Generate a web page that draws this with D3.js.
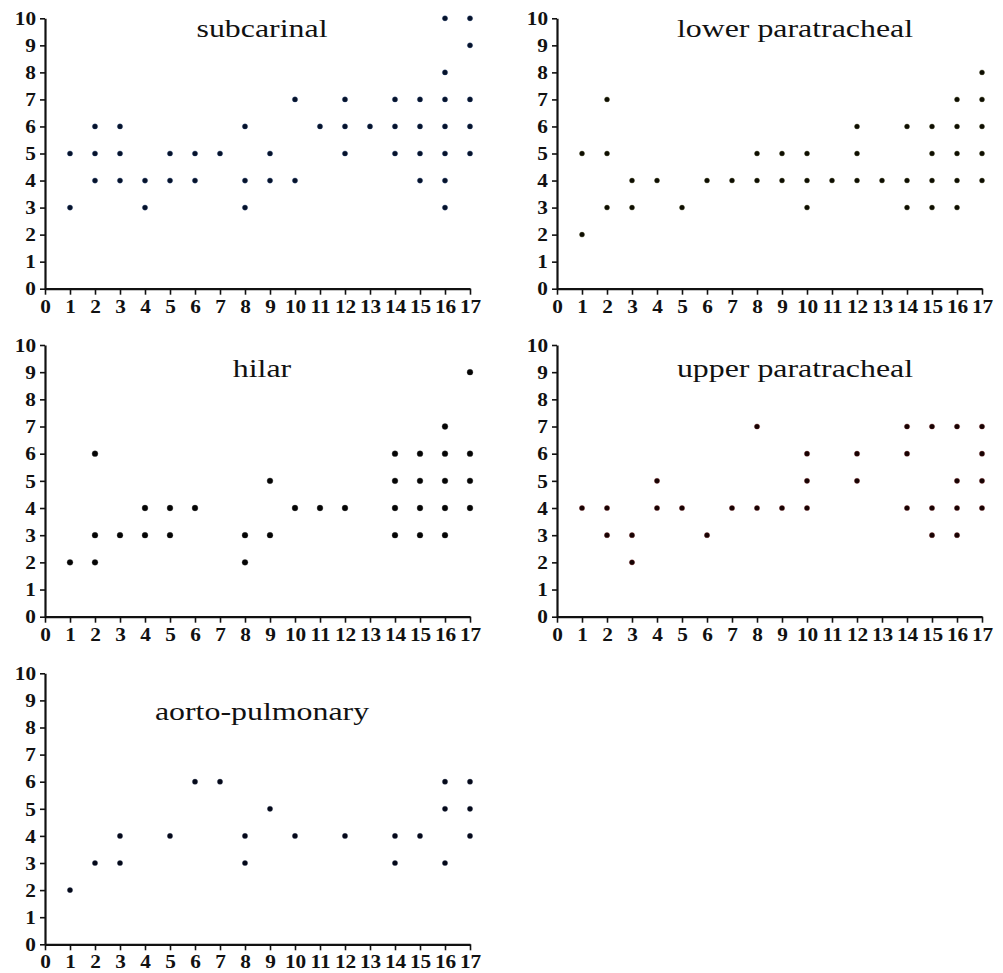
<!DOCTYPE html>
<html>
<head>
<meta charset="utf-8">
<script src="https://cdn.jsdelivr.net/npm/d3@7"></script>
<style>
  html, body { margin: 0; padding: 0; background: #fff; }
  svg { display: block; }
</style>
</head>
<body>
<svg id="chart" width="1003" height="973"></svg>
<script>
// ---- data ----
const xTicks = d3.range(0, 18);
const yTicks = d3.range(0, 11);
const panelTitles = ["subcarinal", "lower paratracheal", "hilar", "upper paratracheal", "aorto-pulmonary"];

// [x, y] pairs
const subcarinal = [
  [1,5],[1,3],[2,6],[2,5],[2,4],[3,6],[3,5],[3,4],[4,4],[4,3],[5,5],[5,4],[6,5],[6,4],[7,5],
  [8,6],[8,4],[8,3],[9,5],[9,4],[10,7],[10,4],[11,6],[12,7],[12,6],[12,5],[13,6],
  [14,7],[14,6],[14,5],[15,7],[15,6],[15,5],[15,4],
  [16,10],[16,8],[16,7],[16,6],[16,5],[16,4],[16,3],
  [17,10],[17,9],[17,7],[17,6],[17,5]
];
const lowerParatracheal = [
  [1,5],[1,2],[2,7],[2,5],[2,3],[3,4],[3,3],[4,4],[5,3],[6,4],[7,4],
  [8,5],[8,4],[9,5],[9,4],[10,5],[10,4],[10,3],[11,4],[12,6],[12,5],[12,4],[13,4],
  [14,6],[14,4],[14,3],[15,6],[15,5],[15,4],[15,3],
  [16,7],[16,6],[16,5],[16,4],[16,3],
  [17,8],[17,7],[17,6],[17,5],[17,4]
];
const hilar = [
  [1,2],[2,6],[2,3],[2,2],[3,3],[4,4],[4,3],[5,4],[5,3],[6,4],
  [8,3],[8,2],[9,5],[9,3],[10,4],[11,4],[12,4],
  [14,6],[14,5],[14,4],[14,3],[15,6],[15,5],[15,4],[15,3],
  [16,7],[16,6],[16,5],[16,4],[16,3],
  [17,9],[17,6],[17,5],[17,4]
];
const upperParatracheal = [
  [1,4],[2,4],[2,3],[3,3],[3,2],[4,5],[4,4],[5,4],[6,3],[7,4],
  [8,7],[8,4],[9,4],[10,6],[10,5],[10,4],[12,6],[12,5],
  [14,7],[14,6],[14,4],[15,7],[15,4],[15,3],
  [16,7],[16,5],[16,4],[16,3],
  [17,7],[17,6],[17,5],[17,4]
];
const aortoPulmonary = [
  [1,2],[2,3],[3,4],[3,3],[5,4],[6,6],[7,6],[8,4],[8,3],
  [9,5],[10,4],[12,4],[14,4],[14,3],[15,4],
  [16,6],[16,5],[16,3],[17,6],[17,5],[17,4]
];

const seriesList = [subcarinal, lowerParatracheal, hilar, upperParatracheal, aortoPulmonary];

// ---- layout ----
const panels = [
  { x0: 45,  x1: 470, yTop: 18.3, yBot: 288.7, titleX: 262, titleY: 36.5, fill: "#06122a", stroke: "#2a4a7a", r: 2.6 },
  { x0: 557, x1: 982, yTop: 18.3, yBot: 288.7, titleX: 795, titleY: 36.5, fill: "#0d0d02", stroke: "#4a4a20", r: 2.5 },
  { x0: 45,  x1: 470, yTop: 345,  yBot: 616.7, titleX: 262, titleY: 376.5, fill: "#050505", stroke: "#303030", r: 2.9 },
  { x0: 557, x1: 982, yTop: 345,  yBot: 616.7, titleX: 795, titleY: 376.5, fill: "#150303", stroke: "#7a2020", r: 2.6 },
  { x0: 45,  x1: 470, yTop: 673.3, yBot: 944.3, titleX: 262, titleY: 720, fill: "#040818", stroke: "#2a3450", r: 2.6 }
];

const SX = 1.25;  // horizontal stretch of title text in the original figure
const TSX = 1.15; // horizontal stretch of tick labels
const FONT = "'Liberation Serif', 'Times New Roman', Times, serif";
const svg = d3.select("#chart");

panels.forEach((p, i) => {
  const x = d3.scaleLinear().domain([0, 17]).range([p.x0, p.x1]);
  const y = d3.scaleLinear().domain([0, 10]).range([p.yBot, p.yTop]);
  const g = svg.append("g");

  // x axis
  const xAxis = d3.axisBottom(x).tickValues(xTicks).tickFormat(d3.format("d"))
    .tickSize(6).tickSizeOuter(0).tickPadding(5);
  const gx = g.append("g").attr("transform", `translate(0,${p.yBot})`).call(xAxis);
  gx.select(".domain").attr("stroke", "#111").attr("stroke-width", 2.2);
  gx.selectAll(".tick line").attr("stroke", "#111").attr("stroke-width", 1.6);
  gx.selectAll(".tick text")
    .attr("font-family", FONT)
    .attr("font-weight", "bold").attr("font-size", 18.5).attr("fill", "#111")
    .attr("transform", `scale(${TSX},1)`);

  // y axis
  const yAxis = d3.axisLeft(y).tickValues(yTicks).tickFormat(d3.format("d"))
    .tickSize(5).tickSizeOuter(0).tickPadding(3);
  const gy = g.append("g").attr("transform", `translate(${p.x0},0)`).call(yAxis);
  gy.select(".domain").attr("stroke", "#111").attr("stroke-width", 2.2);
  gy.selectAll(".tick line").attr("stroke", "#111").attr("stroke-width", 1.6);
  gy.selectAll(".tick text")
    .attr("font-family", FONT)
    .attr("font-weight", "bold").attr("font-size", 18.5).attr("fill", "#111")
    .attr("x", -9 / TSX).attr("dy", "0.34em")
    .attr("transform", `scale(${TSX},1)`);

  // title
  g.append("text")
    .attr("transform", `translate(${p.titleX},${p.titleY}) scale(${SX},1)`)
    .attr("text-anchor", "middle")
    .attr("font-family", FONT)
    .attr("font-size", 25.5).attr("fill", "#111")
    .text(panelTitles[i]);

  // dots
  g.append("g").selectAll("circle").data(seriesList[i]).join("circle")
    .attr("cx", d => x(d[0])).attr("cy", d => y(d[1]))
    .attr("r", p.r).attr("fill", p.fill)
    .attr("stroke", p.stroke).attr("stroke-width", 0.6).attr("stroke-opacity", 0.6);
});
</script>
</body>
</html>
